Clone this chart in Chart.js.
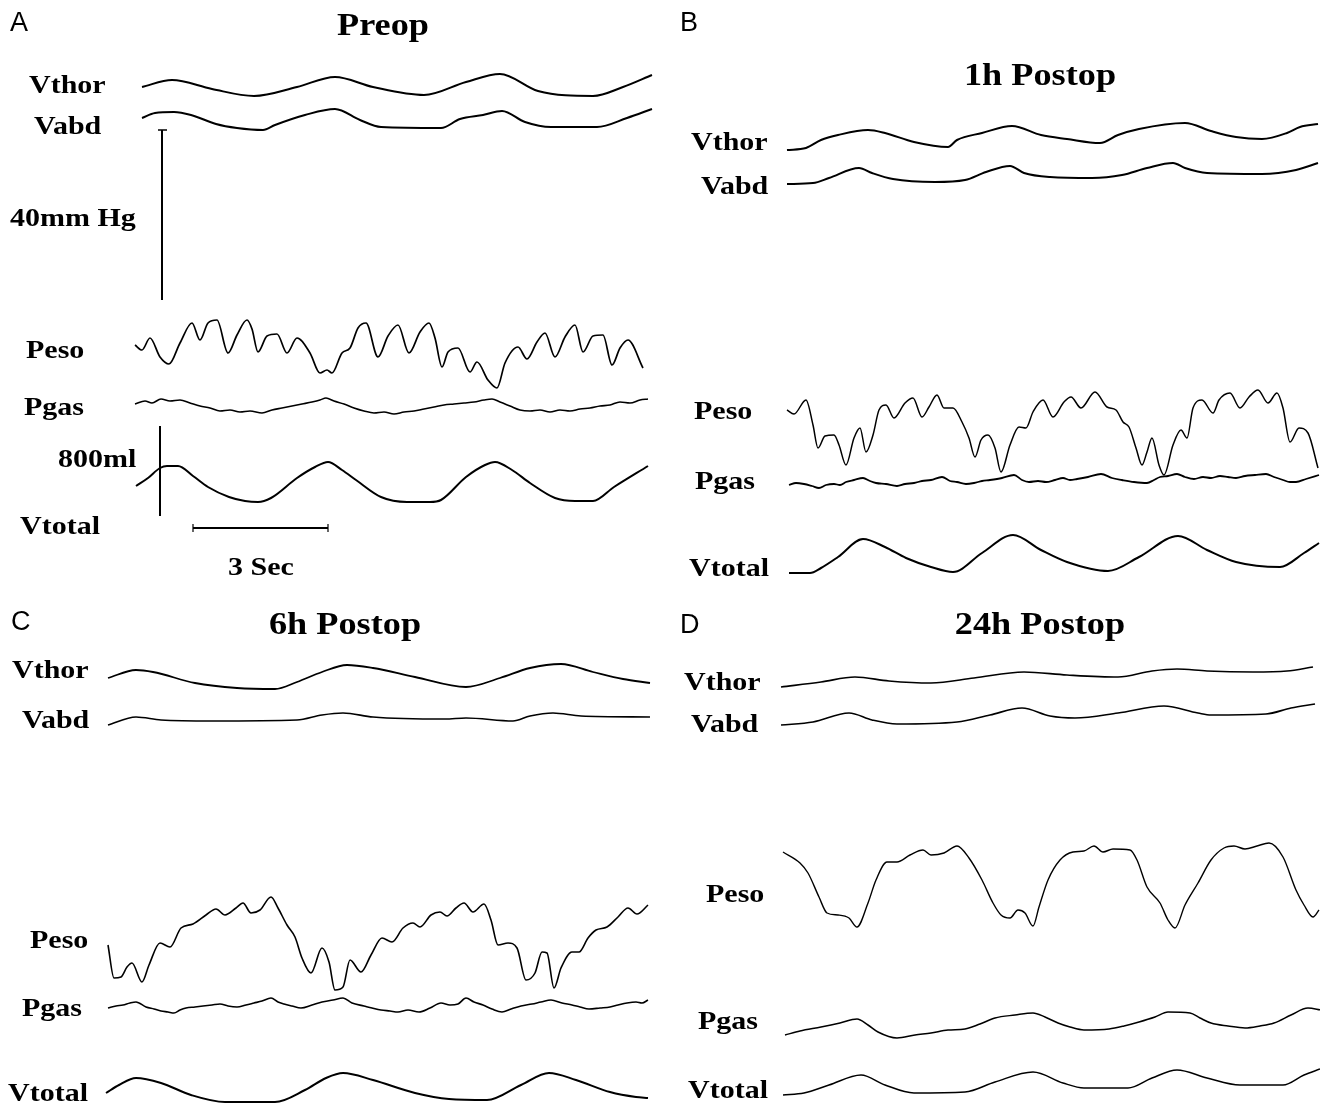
<!DOCTYPE html>
<html>
<head>
<meta charset="utf-8">
<script src="https://cdn.jsdelivr.net/npm/chart.js@4.4.0/dist/chart.umd.min.js"></script>
<style>
  body { margin: 0; background: #fff; }
  #fig { position: relative; width: 1320px; height: 1107px; overflow: hidden; background: #fff; }
  #fig canvas { position: absolute; }
  .lbl, .ttl, .let { position: absolute; line-height: 1; white-space: nowrap; color: #000; }
  .lbl { font: bold 25px "Liberation Serif", serif; transform-origin: left center; transform: translateY(-50%) scaleX(1.2); }
  .ttl { font: bold 31px "Liberation Serif", serif; transform: translate(-50%, -50%) scaleX(1.17); }
  .let { font: 27px "Liberation Sans", sans-serif; transform: translateY(-50%); }
</style>
</head>
<body>
<div id="fig">
  <canvas id="panelA" width="660" height="590" style="left:0;top:0"></canvas>
  <canvas id="panelB" width="660" height="590" style="left:660px;top:0"></canvas>
  <canvas id="panelC" width="660" height="517" style="left:0;top:590px"></canvas>
  <canvas id="panelD" width="660" height="517" style="left:660px;top:590px"></canvas>

  <div class="let" style="left:10px;top:22px">A</div>
  <div class="let" style="left:680px;top:22px">B</div>
  <div class="let" style="left:11px;top:621px">C</div>
  <div class="let" style="left:680px;top:624px">D</div>

  <div class="ttl" style="left:383px;top:25px">Preop</div>
  <div class="ttl" style="left:1040px;top:75px">1h Postop</div>
  <div class="ttl" style="left:345px;top:624px">6h Postop</div>
  <div class="ttl" style="left:1040px;top:624px">24h Postop</div>

  <div class="lbl" style="left:29px;top:85px">Vthor</div>
  <div class="lbl" style="left:34px;top:126px">Vabd</div>
  <div class="lbl" style="left:10px;top:218px">40mm Hg</div>
  <div class="lbl" style="left:26px;top:350px">Peso</div>
  <div class="lbl" style="left:24px;top:407px">Pgas</div>
  <div class="lbl" style="left:58px;top:459px">800ml</div>
  <div class="lbl" style="left:20px;top:526px">Vtotal</div>
  <div class="lbl" style="left:228px;top:567px">3 Sec</div>

  <div class="lbl" style="left:691px;top:142px">Vthor</div>
  <div class="lbl" style="left:701px;top:186px">Vabd</div>
  <div class="lbl" style="left:694px;top:411px">Peso</div>
  <div class="lbl" style="left:695px;top:481px">Pgas</div>
  <div class="lbl" style="left:689px;top:568px">Vtotal</div>

  <div class="lbl" style="left:12px;top:670px">Vthor</div>
  <div class="lbl" style="left:22px;top:720px">Vabd</div>
  <div class="lbl" style="left:30px;top:940px">Peso</div>
  <div class="lbl" style="left:22px;top:1008px">Pgas</div>
  <div class="lbl" style="left:8px;top:1093px">Vtotal</div>

  <div class="lbl" style="left:684px;top:682px">Vthor</div>
  <div class="lbl" style="left:691px;top:724px">Vabd</div>
  <div class="lbl" style="left:706px;top:894px">Peso</div>
  <div class="lbl" style="left:698px;top:1021px">Pgas</div>
  <div class="lbl" style="left:688px;top:1090px">Vtotal</div>
</div>

<script>
// traces: [time, level] pairs, arbitrary units per panel

// A - Preop
const A_VTHOR = [[142,503],[172,510],[212,501],[254,494],[297,503],[335,513],[373,503],[424,495],[466,508],[500,516],[538,499],[593,494],[623,503],[652,515]];
const A_VABD = [[142,472],[155,477],[174,478],[191,475],[216,466],[237,462],[263,460],[275,465],[305,475],[335,481],[360,470],[381,463],[441,462],[460,471],[483,475],[502,479],[525,468],[551,463],[597,463],[627,472],[652,481]];
const A_PESO = [[135,245],[142,240],[150,252],[160,233],[169,226],[180,247],[192,267],[200,250],[208,267],[217,270],[228,237],[237,255],[247,270],[252,261],[258,238],[267,254],[277,256],[287,237],[297,252],[310,237],[320,217],[327,220],[332,217],[342,237],[350,242],[358,262],[366,267],[378,233],[388,254],[398,265],[409,237],[420,258],[429,267],[435,252],[442,223],[448,238],[458,242],[470,218],[477,228],[488,210],[497,202],[505,227],[518,243],[527,231],[537,248],[545,257],[555,233],[565,253],[575,265],[583,238],[593,254],[603,255],[612,225],[620,242],[628,250],[643,222]];
const A_PGAS = [[135,186],[145,189],[152,187],[161,191],[170,189],[180,190],[190,187],[200,184],[210,182],[220,179],[230,180],[240,178],[250,179],[262,177],[272,180],[282,182],[292,184],[302,186],[312,188],[320,190],[326,192],[334,189],[344,186],[354,182],[364,179],[374,177],[384,178],[394,176],[404,178],[414,179],[424,181],[434,183],[444,185],[454,186],[464,187],[474,188],[484,190],[492,191],[500,188],[510,184],[520,180],[530,179],[540,180],[550,178],[560,180],[570,179],[580,181],[590,182],[600,184],[610,185],[620,188],[630,187],[640,190],[648,191]];
const A_VTOTAL = [[136,104],[148,112],[160,122],[167,124],[178,124],[193,114],[208,103],[229,93],[245,89],[258,88],[271,92],[297,112],[315,123],[328,128],[342,120],[356,110],[381,93],[407,88],[430,88],[441,90],[466,113],[485,125],[495,128],[512,120],[530,107],[555,92],[575,89],[593,89],[614,103],[648,124]];
// calibration bars: 40 mmHg, 800 ml, 3 s
const BAR_40MMHG = [[162,290],[162,460]];
const BAR_40MMHG_CAP = [[158,460],[167,460]];
const BAR_800ML = [[160,74],[160,164]];
const BAR_3SEC = [[193,62],[328,62]];
const BAR_3SEC_START = [[193,58],[193,66]];
const BAR_3SEC_END = [[328,58],[328,66]];

// B - 1h Postop
const B_VTHOR = [[127,440],[146,442],[161,450],[178,455],[208,460],[225,457],[254,448],[288,443],[297,450],[322,457],[352,464],[381,455],[407,451],[440,447],[458,455],[479,461],[525,467],[551,459],[576,453],[602,451],[627,457],[640,463],[658,466]];
const B_VABD = [[127,406],[153,407],[169,412],[199,422],[212,417],[233,411],[275,408],[305,410],[326,418],[350,424],[364,417],[390,413],[432,412],[462,415],[487,422],[513,427],[525,422],[547,417],[602,416],[636,420],[658,427]];
const B_PESO = [[127,180],[134,176],[146,190],[153,165],[158,142],[165,154],[174,155],[179,145],[186,125],[194,152],[200,162],[206,138],[213,155],[219,180],[226,185],[234,172],[245,187],[253,192],[262,173],[269,183],[277,195],[284,182],[293,182],[302,168],[309,152],[315,133],[321,150],[328,155],[335,142],[341,118],[350,145],[359,163],[366,162],[373,178],[383,190],[393,173],[404,188],[411,193],[421,182],[435,198],[447,183],[456,180],[463,168],[469,163],[476,142],[482,125],[487,138],[492,152],[499,125],[504,115],[513,145],[521,160],[527,152],[533,182],[542,190],[553,177],[559,190],[570,197],[580,182],[589,193],[598,200],[608,187],[617,197],[623,182],[630,148],[639,162],[648,157],[658,122]];
const B_PGAS = [[129,105],[136,107],[144,106],[152,104],[159,102],[166,105],[174,106],[180,105],[186,108],[194,110],[203,112],[210,109],[216,107],[226,106],[237,104],[245,106],[254,107],[262,109],[271,110],[282,113],[290,109],[297,108],[306,106],[314,107],[322,109],[330,110],[342,112],[354,115],[362,110],[369,108],[378,109],[386,108],[395,110],[403,112],[410,110],[417,111],[428,113],[441,116],[452,112],[462,110],[474,108],[487,107],[494,110],[500,113],[508,114],[517,116],[525,113],[534,111],[543,113],[551,112],[560,114],[568,113],[576,112],[585,114],[595,115],[606,116],[614,113],[623,110],[630,108],[636,108],[646,111],[659,115]];
const B_VTOTAL = [[129,17],[150,17],[161,22],[178,33],[203,51],[225,43],[246,32],[271,23],[293,18],[322,37],[353,55],[381,40],[407,28],[448,19],[479,33],[518,54],[547,40],[576,28],[620,23],[644,37],[659,47]];

// C - 6h Postop
const C_VTHOR = [[108,429],[136,437],[153,435],[195,424],[237,419],[275,418],[297,425],[322,435],[347,442],[373,439],[415,430],[466,420],[500,429],[530,439],[561,443],[593,435],[623,428],[650,424]];
const C_VABD = [[108,382],[136,390],[161,387],[212,386],[297,387],[322,392],[343,394],[373,390],[445,388],[466,389],[513,386],[530,391],[553,394],[581,391],[650,390]];
const C_PESO = [[108,162],[114,129],[121,130],[127,140],[132,144],[142,125],[149,142],[160,164],[170,160],[181,179],[193,183],[206,192],[216,198],[225,192],[236,199],[243,204],[251,194],[260,197],[271,210],[278,199],[287,182],[295,170],[302,149],[311,134],[322,159],[329,145],[335,117],[343,120],[350,147],[361,135],[371,152],[382,169],[392,165],[403,179],[413,184],[420,180],[431,192],[440,195],[447,191],[456,199],[464,204],[473,195],[484,203],[491,187],[498,162],[508,164],[517,159],[526,127],[535,134],[542,155],[547,154],[554,119],[561,139],[572,155],[579,155],[588,169],[596,177],[607,180],[618,190],[628,199],[637,193],[648,202]];
const C_PGAS = [[108,99],[116,101],[123,102],[130,104],[136,105],[146,100],[154,98],[161,96],[168,95],[174,94],[180,97],[186,99],[195,100],[203,101],[212,102],[220,103],[228,101],[237,100],[246,102],[254,104],[262,106],[271,109],[278,105],[284,103],[292,101],[301,99],[312,102],[322,105],[333,107],[343,109],[352,104],[364,101],[372,99],[381,97],[390,96],[398,95],[408,97],[419,95],[430,99],[441,104],[450,102],[458,103],[466,109],[474,105],[483,102],[492,98],[502,95],[511,98],[521,101],[532,103],[541,105],[551,107],[562,104],[572,102],[580,100],[589,98],[600,99],[610,100],[618,102],[627,104],[636,105],[642,104],[648,107]];
const C_VTOTAL = [[106,14],[119,22],[136,29],[161,24],[191,12],[225,5],[275,5],[305,17],[326,29],[343,34],[373,27],[415,14],[449,8],[487,7],[521,22],[549,34],[576,27],[610,15],[636,10],[648,9]];

// D - 24h Postop
const D_VTHOR = [[121,420],[161,425],[195,430],[229,426],[271,424],[314,429],[364,435],[407,432],[458,430],[492,436],[517,438],[547,436],[593,435],[627,436],[653,440]];
const D_VABD = [[121,382],[153,385],[189,394],[212,387],[237,383],[297,385],[330,392],[362,399],[390,391],[415,389],[458,394],[504,401],[538,394],[551,392],[606,393],[631,399],[655,403]];
const D_PESO = [[123,255],[140,244],[148,234],[159,210],[167,194],[178,192],[189,189],[197,180],[208,204],[216,227],[227,245],[237,245],[250,252],[263,257],[271,252],[284,254],[297,261],[309,249],[322,227],[333,204],[341,192],[350,189],[358,197],[365,194],[373,181],[379,200],[388,227],[400,247],[413,255],[424,256],[434,261],[443,255],[453,258],[470,257],[477,247],[487,220],[500,204],[508,187],[515,179],[525,202],[538,224],[551,247],[564,259],[574,261],[585,258],[597,261],[609,264],[623,250],[636,217],[644,202],[653,190],[659,197]];
const D_PGAS = [[125,72],[140,76],[161,80],[180,84],[197,88],[208,82],[218,75],[237,69],[255,72],[271,74],[288,77],[305,78],[320,83],[335,89],[355,92],[373,94],[385,90],[398,84],[410,80],[424,77],[449,78],[464,81],[479,85],[495,90],[508,95],[530,94],[540,89],[551,84],[568,81],[585,79],[600,81],[614,84],[631,92],[648,99],[661,97]];
const D_VTOTAL = [[123,12],[144,14],[169,22],[201,32],[225,22],[254,14],[305,15],[335,25],[373,35],[403,24],[424,19],[468,19],[492,29],[517,37],[547,29],[580,22],[623,22],[644,32],[660,38]];

function trace(points, width, straight) {
    return {
        data: points.map(p => ({ x: p[0], y: p[1] })),
        borderColor: '#000',
        borderWidth: width,
        pointRadius: 0,
        fill: false,
        tension: 0,
        cubicInterpolationMode: straight ? 'default' : 'monotone',
        clip: false
    };
}

function makePanel(id, height, datasets) {
    const ctx = document.getElementById(id).getContext('2d');
    return new Chart(ctx, {
        type: 'line',
        data: { datasets: datasets },
        options: {
            responsive: false,
            animation: false,
            events: [],
            layout: { padding: 0 },
            plugins: { legend: { display: false }, tooltip: { enabled: false } },
            scales: {
                x: { type: 'linear', min: 0, max: 660, display: false },
                y: { type: 'linear', min: 0, max: height, display: false }
            }
        }
    });
}

makePanel('panelA', 590, [
    trace(A_VTHOR, 2), trace(A_VABD, 2), trace(A_PESO, 1.7), trace(A_PGAS, 1.6), trace(A_VTOTAL, 2),
    trace(BAR_40MMHG, 2, true), trace(BAR_40MMHG_CAP, 1.5, true), trace(BAR_800ML, 2, true),
    trace(BAR_3SEC, 1.8, true), trace(BAR_3SEC_START, 1.2, true), trace(BAR_3SEC_END, 1.2, true)
]);
makePanel('panelB', 590, [
    trace(B_VTHOR, 2), trace(B_VABD, 2), trace(B_PESO, 1.5), trace(B_PGAS, 1.8), trace(B_VTOTAL, 2)
]);
makePanel('panelC', 517, [
    trace(C_VTHOR, 1.8), trace(C_VABD, 1.6), trace(C_PESO, 1.6), trace(C_PGAS, 1.6), trace(C_VTOTAL, 2)
]);
makePanel('panelD', 517, [
    trace(D_VTHOR, 1.6), trace(D_VABD, 1.6), trace(D_PESO, 1.4), trace(D_PGAS, 1.5), trace(D_VTOTAL, 1.5)
]);
</script>
</body>
</html>
